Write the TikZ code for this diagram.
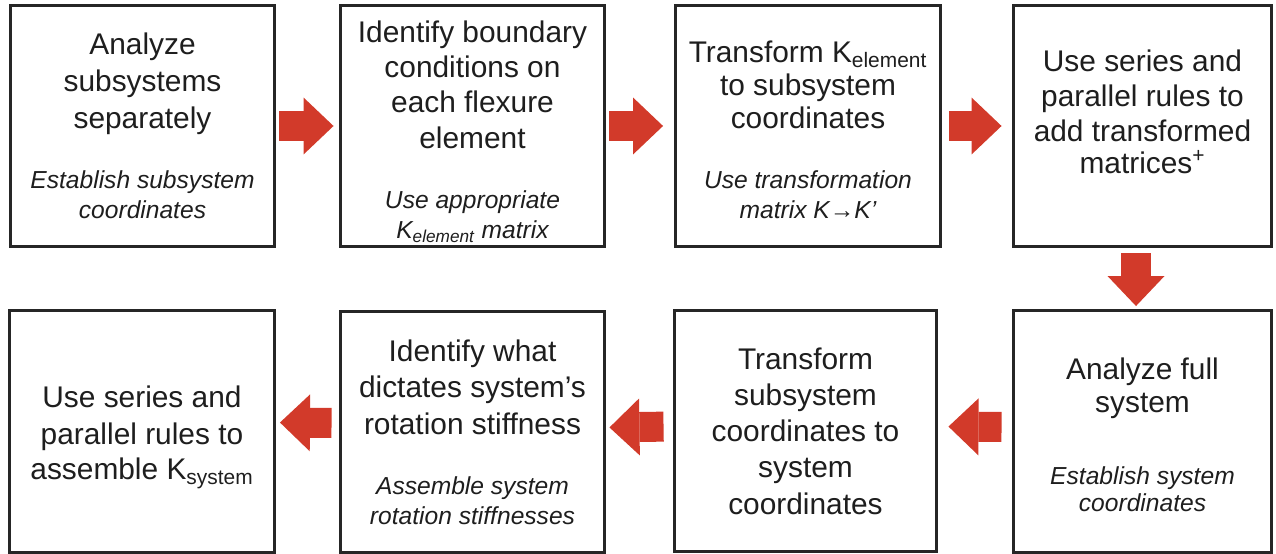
\documentclass[tikz,border=0pt]{standalone}
\usepackage{fontspec}
\setmainfont{Liberation Sans}
\usetikzlibrary{arrows.meta}

\definecolor{flowred}{RGB}{210,58,42}
\definecolor{boxline}{RGB}{38,38,38}
\definecolor{ink}{RGB}{30,30,30}

% smaller italic lines under the main text of a box
\newcommand\aside[1]{{\fontsize{14}{17.6}\selectfont\itshape #1}}

\tikzset{
  stepbox/.style={draw=boxline, line width=1.7pt, fill=white, text=ink, align=center,
    minimum width=5.3cm, minimum height=4.84cm, inner sep=0pt,
    font=\fontsize{17}{21}\selectfont},
  flow/.style={flowred, line width=0.6cm,
    -{Triangle[length=0.6cm,width=1.14cm,line width=0pt]}}
}

\begin{document}
\begin{tikzpicture}[x=0.02cm,y=-0.02cm]
\useasboundingbox (0,0) rectangle (1276,554);
% top row, left to right
\node[stepbox] (sub) at (142.5,126) {Analyze\\subsystems\\separately\\[13pt]
  \aside{Establish subsystem}\\[-4pt]\aside{coordinates}};
\node[stepbox] (bc) at (472.5,126) {\mbox{}\\[-2pt]Identify boundary\\[-1pt]conditions on\\[-1pt]each flexure\\[-1pt]element\\[13.7pt]
  \aside{Use appropriate}\\[-4pt]\aside{K\textsubscript{element} matrix}};
\node[stepbox] (trans) at (808,126) {\mbox{}\\[-4.2pt]Transform K\textsubscript{element}\\[-2.2pt]to subsystem\\[-2.2pt]coordinates\\[13pt]
  \aside{Use transformation}\\[-4pt]\aside{matrix K→K’}};
\node[stepbox, minimum width=5.18cm] (add) at (1142.5,126) {Use series and\\[-1pt]parallel rules to\\[-1pt]add transformed\\[-3pt]matrices\textsuperscript{+}\\[-4.5pt]\mbox{}};
% bottom row, right to left
\node[stepbox, minimum width=5.18cm] (full) at (1142.5,431.5) {\mbox{}\\[-5.4pt]Analyze full\\[-2.2pt]system\\[20pt]
  \aside{Establish system}\\[-5.6pt]\aside{coordinates}};
\node[stepbox, minimum width=5.26cm] (tosys) at (805.5,431) {Transform\\[-0.4pt]subsystem\\[-0.4pt]coordinates to\\[-0.4pt]system\\[-0.4pt]coordinates};
\node[stepbox] (rot) at (472.5,432) {Identify what\\dictates system’s\\rotation stiffness\\[13pt]
  \aside{Assemble system}\\[-4pt]\aside{rotation stiffnesses}};
\node[stepbox] (asm) at (142,431.5) {\mbox{}\\[-2pt]Use series and\\parallel rules to\\[-1pt]assemble K\textsubscript{system}};

% block arrows between the steps
\draw[flow, shorten <=0.06cm, shorten >=0.1cm] (sub) -- (bc);
\draw[flow, shorten <=0.06cm, shorten >=0.22cm] (bc) -- (trans);
\draw[flow, shorten <=0.14cm, shorten >=0.2cm] (trans) -- (add);
\draw[flow, shorten <=0.1cm, shorten >=0.06cm] ([xshift=-0.13cm]add.south) -- ([xshift=-0.13cm]full.north);
\draw[flow, shorten <=0.2cm, shorten >=0.2cm] ([yshift=0.09cm]full.west) -- ([yshift=0.09cm]tosys.east);
\draw[flow, shorten <=0.18cm, shorten >=0.06cm] ([yshift=0.09cm]tosys.west) -- ([yshift=0.09cm]rot.east);
\draw[flow, shorten <=0.14cm, shorten >=0.08cm] ([yshift=0.18cm]rot.west) -- ([yshift=0.18cm]asm.east);
\end{tikzpicture}
\end{document}
